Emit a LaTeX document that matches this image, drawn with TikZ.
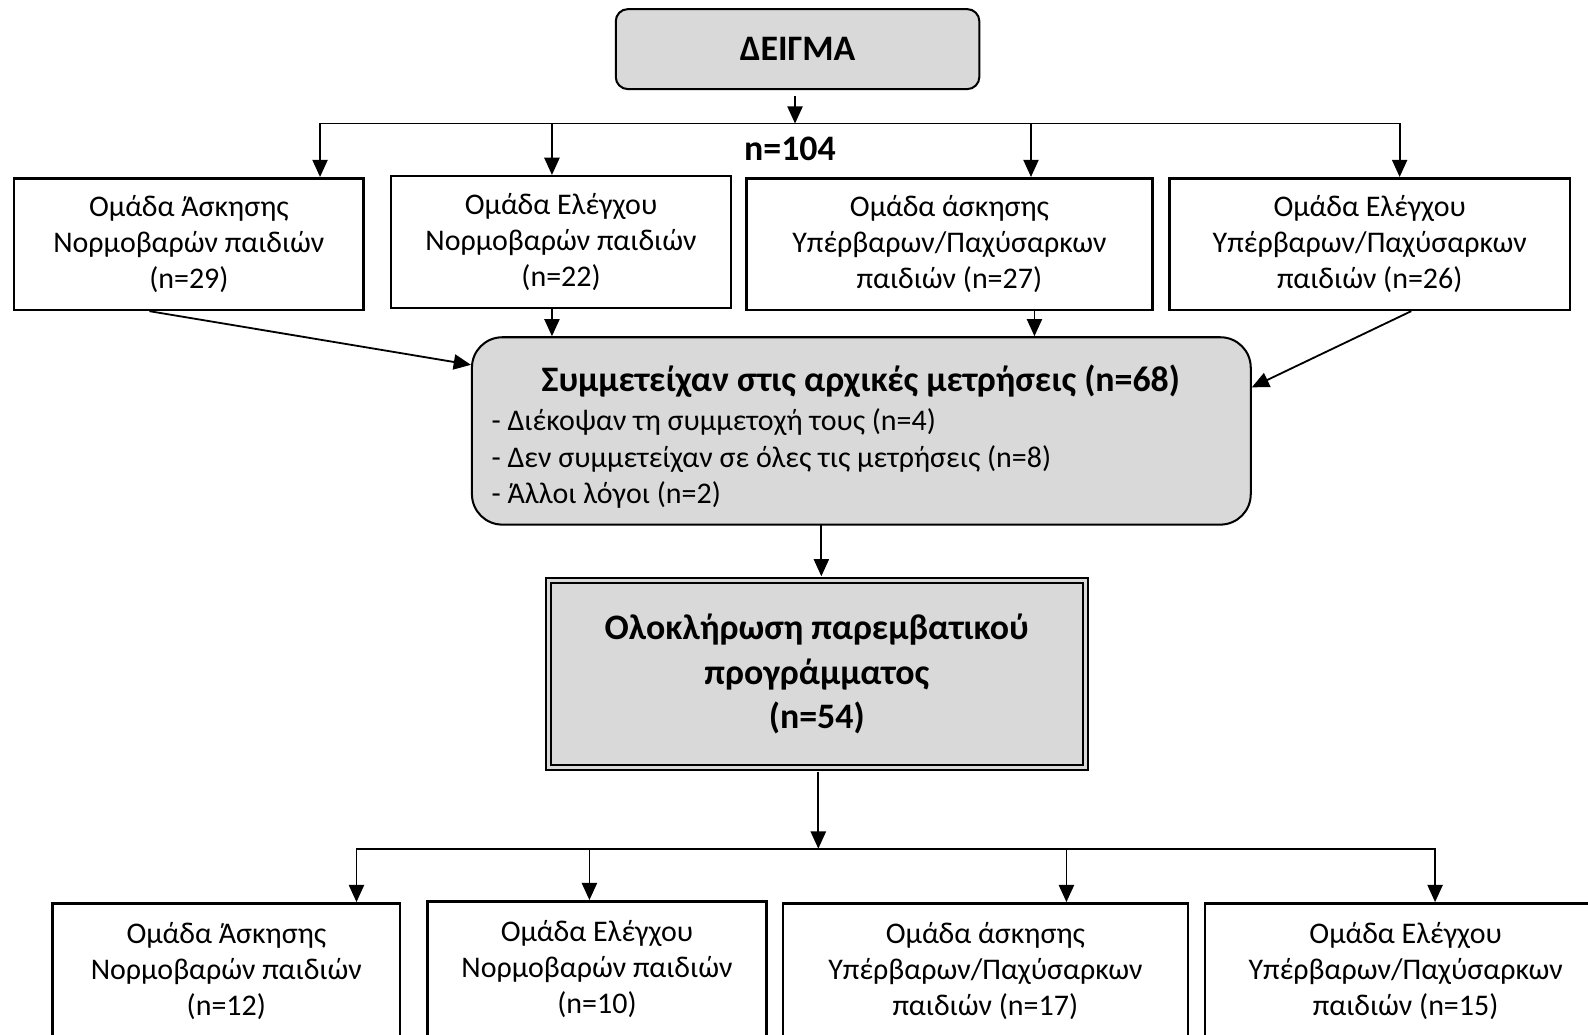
\documentclass[tikz,border=0pt]{standalone}
\usepackage{fontspec}
\setmainfont{Carlito}
\usetikzlibrary{arrows.meta,calc}
\definecolor{boxgray}{RGB}{217,217,217}
\begin{document}
\begin{tikzpicture}[x=0.5pt,y=-0.5pt,
  grp/.style={draw, line width=1.25pt, fill=white, inner sep=0pt, align=center,
    font=\fontsize{14.8}{17.7}\selectfont},
  bold/.style={font=\fontsize{17.7}{22}\selectfont\bfseries, align=center, inner sep=0pt},
  arr/.style={line width=0.9pt, -{Triangle[length=8.5pt,width=7.5pt]}},
  ln/.style={line width=0.9pt, line cap=rect}]
\useasboundingbox (0,0) rectangle (1568,1021);
\clip (0,0) rectangle (1568,1021);

% top
\node[draw, line width=1pt, fill=boxgray, rounded corners=6pt, minimum width=179.5pt,
  minimum height=39.5pt, bold] (top) at (787.5,48.5) {ΔΕΙΓΜΑ};

\coordinate (t0) at (785,122);
\coordinate (t1) at (316,122);
\coordinate (t2) at (545,122);
\coordinate (t3) at (1018,122);
\coordinate (t4) at (1382,122);

\node[grp, minimum width=172.5pt, minimum height=65pt] (b1) at (186.5,241)
  {Ομάδα Άσκησης\\Νορμοβαρών παιδιών\\(n=29)};
\node[grp, minimum width=168pt, minimum height=65pt] (b2) at (554,239)
  {Ομάδα Ελέγχου\\Νορμοβαρών παιδιών\\(n=22)};
\node[grp, minimum width=200.5pt, minimum height=65pt] (b3) at (937.5,241)
  {Ομάδα άσκησης\\Υπέρβαρων/Παχύσαρκων\\παιδιών (n=27)};
\node[grp, minimum width=197.5pt, minimum height=65pt] (b4) at (1352.5,241)
  {Ομάδα Ελέγχου\\Υπέρβαρων/Παχύσαρκων\\παιδιών (n=26)};

\draw[arr, shorten <=3pt] (top.south -| t0) -- (t0);
\draw[ln] (t1) -- (t4);
\draw[arr] (t1) -- (t1 |- b1.north);
\draw[arr] (t2) -- (t2 |- b2.north);
\draw[arr] (t3) -- (t3 |- b3.north);
\draw[arr] (t4) -- (t4 |- b4.north);

\node[bold] (n104) at (780,147) {n=104};

% middle
\node[draw, line width=1pt, fill=boxgray, rounded corners=15pt, minimum width=384.5pt,
  minimum height=92.5pt] (m) at (850.5,425.5) {};
\node[bold] (mt) at (850,376) {Συμμετείχαν στις αρχικές μετρήσεις (n=68)};
\node[anchor=west, align=left, inner sep=0pt, font=\fontsize{14.8}{18}\selectfont] (ml) at (485,453)
  {- Διέκοψαν τη συμμετοχή τους (n=4)\\- Δεν συμμετείχαν σε όλες τις μετρήσεις (n=8)\\- Άλλοι λόγοι (n=2)};

\coordinate (s1) at ($(b1.south west)!0.388!(b1.south east)$);
\coordinate (e1) at ($(m.north west)!0.151!(m.south west)$);
\draw[arr] (s1) -- (e1);
\draw[arr] (t2 |- b2.south) -- (t2 |- m.north);
\coordinate (s3) at ($(b3.south west)!0.708!(b3.south east)$);
\draw[arr] (s3) -- (s3 |- m.north);
\coordinate (s4) at ($(b4.south west)!0.603!(b4.south east)$);
\coordinate (e4) at ($(m.north east)!0.27!(m.south east)$);
\draw[arr] (s4) -- (e4);

% completion
\node[draw, line width=1pt, fill=boxgray, double=boxgray, double distance=1.5pt,
  minimum width=265pt, minimum height=92pt, bold] (d) at (806.5,665.5)
  {Ολοκλήρωση παρεμβατικού\\προγράμματος\\(n=54)};
\coordinate (mx) at (811,518);
\draw[arr, shorten >=1.75pt] (mx) -- (mx |- d.north);

\coordinate (u0) at (808,838);
\coordinate (u1) at (352,838);
\coordinate (u2) at (582,838);
\coordinate (u3) at (1053,838);
\coordinate (u4) at (1417,838);
\draw[arr, shorten <=1.75pt] (d.south -| u0) -- (u0);
\draw[ln] (u1) -- (u4);

\node[grp, minimum width=171.5pt, minimum height=67pt] (c1) at (223.5,959)
  {Ομάδα Άσκησης\\Νορμοβαρών παιδιών\\(n=12)};
\node[grp, minimum width=167.5pt, minimum height=67pt] (c2) at (589.5,957)
  {Ομάδα Ελέγχου\\Νορμοβαρών παιδιών\\(n=10)};
\node[grp, minimum width=200pt, minimum height=67pt] (c3) at (973,959)
  {Ομάδα άσκησης\\Υπέρβαρων/Παχύσαρκων\\παιδιών (n=17)};
\node[grp, minimum width=198pt, minimum height=67pt] (c4) at (1388,959)
  {Ομάδα Ελέγχου\\Υπέρβαρων/Παχύσαρκων\\παιδιών (n=15)};

\draw[arr] (u1) -- (u1 |- c1.north);
\draw[arr] (u2) -- (u2 |- c2.north);
\draw[arr] (u3) -- (u3 |- c3.north);
\draw[arr] (u4) -- (u4 |- c4.north);
\end{tikzpicture}
\end{document}
